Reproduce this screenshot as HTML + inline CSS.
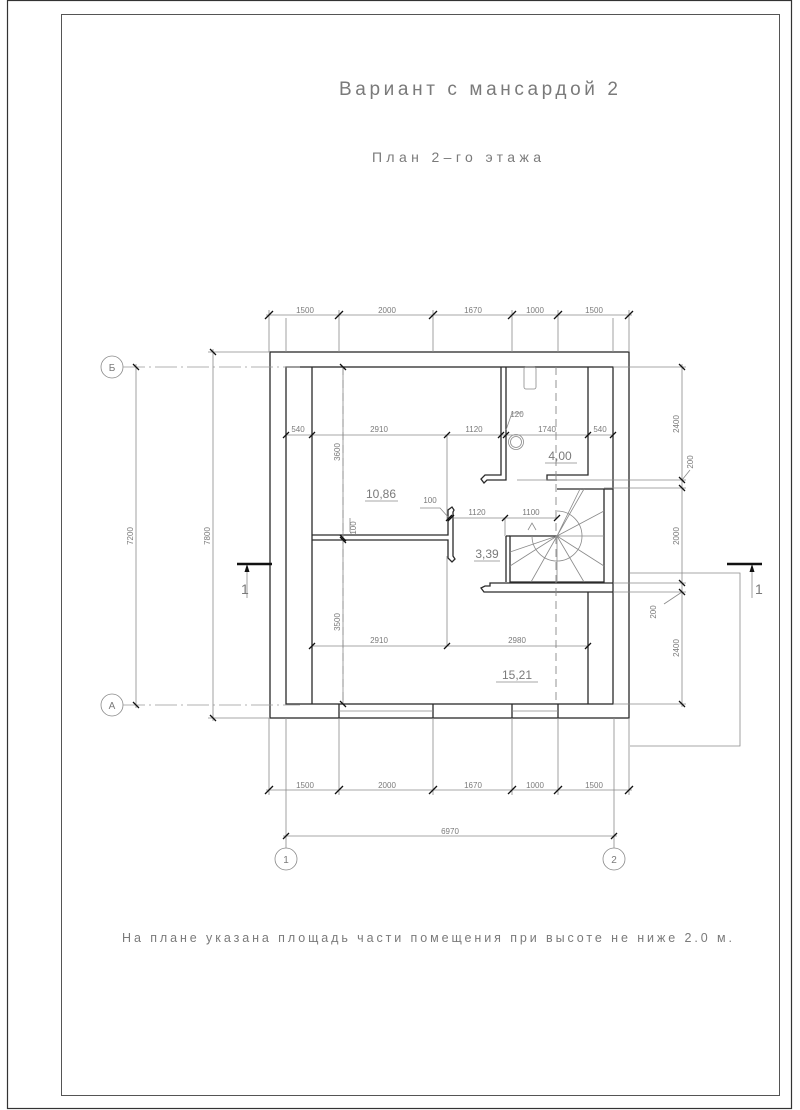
<!DOCTYPE html>
<html><head><meta charset="utf-8"><style>
html,body{margin:0;padding:0;background:#fff}
svg{display:block}
text{font-family:"Liberation Sans","DejaVu Sans",sans-serif;fill:#7a7a7a}
.w{stroke:#2a2a2a;stroke-width:1.3;fill:none}
.d{stroke:#8a8a8a;stroke-width:0.8;fill:none}
.t{stroke:#111;stroke-width:1.3}
.ax{stroke:#999;stroke-width:0.8;stroke-dasharray:22 4 2 4;fill:none}
.dash{stroke:#888;stroke-width:0.9;stroke-dasharray:8 5;fill:none}
.s{font-size:8px}
</style></head><body>
<svg width="800" height="1110" viewBox="0 0 800 1110" xmlns="http://www.w3.org/2000/svg">
<rect x="7.5" y="0.5" width="784" height="1108" fill="none" stroke="#333" stroke-width="1.2"/>
<rect x="61.5" y="14.5" width="718" height="1081" fill="none" stroke="#555" stroke-width="1"/>

<text x="339" y="95" font-size="19" textLength="279" lengthAdjust="spacing">Вариант  с  мансардой  2</text>
<text x="372" y="162" font-size="14" textLength="169" lengthAdjust="spacing">План  2–го  этажа</text>
<text x="122" y="942" font-size="12.5" textLength="610" lengthAdjust="spacing">На  плане  указана   площадь  части  помещения  при  высоте  не  ниже  2.0  м.</text>

<!-- outer walls -->
<rect x="270" y="352" width="359" height="366" class="w"/>
<rect x="286" y="367" width="327" height="337" class="w"/>
<path class="w" d="M339 704V718M433 704V718M512 704V718M558 704V718"/>
<path class="d" d="M339 711H433M512 711H558"/>

<!-- inner partitions -->
<path class="w" d="M312 367V704"/>
<path class="w" d="M588 367V475H547V480H557"/>
<path class="w" d="M588 592V704"/>
<path class="w" d="M501 367V475H485L481 479L484 483L487 480H506V367"/>
<path class="w" d="M312 535H448V510L452 507L454 510L453 512V556L455 559L452 562L448 558V540H312"/>
<path class="w" d="M557 489H604V582H510V536H557"/>
<path class="w" d="M506 536H510M506 536V582"/>
<path class="w" d="M613 583H490V586H485L481 588L484 592H613"/>
<path class="w" d="M604 489H613"/>
<!-- stairs -->
<g class="d">
<path d="M557 536L580 489M557 536L584 489M557 536L604 511M557 536H604M557 536L604 566M557 536L584 582M557 536L557 582M557 536L531 582M557 536L510 566M557 536L510 552"/>
<path d="M557 511A25 25 0 1 1 532 536"/>
<path d="M528 530L532 523L536 530"/>
</g>
<rect x="524" y="367" width="12" height="22" rx="2" class="d"/>
<circle cx="516" cy="442" r="7.5" class="d"/>
<circle cx="516" cy="442" r="5.5" class="d"/>

<path class="dash" d="M343 367V704M556 367V704"/>

<g class="d">
<path d="M286 435H613M447 435V520M449 518H557M505 518V536M312 646H588M447 646V556M343 367V704"/>
<path d="M506 430L512 413H522"/>
<path d="M449 518L440 508H420"/>
</g>
<g class="t">
<path d="M283 438L289 432M309 438L315 432M444 438L450 432M498 438L504 432M503 438L509 432M585 438L591 432M610 438L616 432"/>
<path d="M446 521L452 515M448 521L454 515M502 521L508 515M554 521L560 515"/>
<path d="M309 649L315 643M444 649L450 643M585 649L591 643"/>
<path d="M340 364L346 370M340 535L346 541M340 537L346 543M340 701L346 707"/>
</g>
<g class="s" text-anchor="middle">
<text x="298" y="432">540</text><text x="379" y="432">2910</text><text x="474" y="432">1120</text>
<text x="547" y="432">1740</text><text x="600" y="432">540</text><text x="517" y="417">120</text>
<text x="477" y="515">1120</text><text x="531" y="515">1100</text><text x="430" y="503">100</text>
<text x="379" y="643">2910</text><text x="517" y="643">2980</text>
<text transform="translate(340,452) rotate(-90)">3600</text>
<text transform="translate(340,622) rotate(-90)">3500</text>
<text transform="translate(356,528) rotate(-90)">100</text>
</g>
<path class="d" d="M350 532V518"/>
<g font-size="12" text-anchor="middle">
<text x="381" y="498">10,86</text><text x="560" y="460">4,00</text>
<text x="487" y="558">3,39</text><text x="517" y="679">15,21</text>
</g>
<path class="d" d="M365 501H398M545 463H577M474 561H500M496 682H538"/>

<g class="d">
<path d="M266 315H632M269 310V352M339 310V352M433 310V352M512 310V352M558 310V352M629 310V352M286 318V352M613 318V352"/>
<path d="M266 790H632M269 718V795M339 718V795M433 718V795M512 718V795M558 718V795M629 718V795"/>
<path d="M286 718V848M614 718V848M283 836H617"/>
</g>
<g class="t">
<path d="M265 319L273 311M335 319L343 311M429 319L437 311M508 319L516 311M554 319L562 311M625 319L633 311"/>
<path d="M265 794L273 786M335 794L343 786M429 794L437 786M508 794L516 786M554 794L562 786M625 794L633 786"/>
<path d="M283 839L289 833M611 839L617 833"/>
</g>
<g class="s" text-anchor="middle">
<text x="305" y="313">1500</text><text x="387" y="313">2000</text><text x="473" y="313">1670</text><text x="535" y="313">1000</text><text x="594" y="313">1500</text>
<text x="305" y="788">1500</text><text x="387" y="788">2000</text><text x="473" y="788">1670</text><text x="535" y="788">1000</text><text x="594" y="788">1500</text>
<text x="450" y="834">6970</text>
</g>
<circle cx="286" cy="859" r="11" class="d"/><circle cx="614" cy="859" r="11" class="d"/>
<text x="286" y="863" font-size="10" text-anchor="middle">1</text><text x="614" y="863" font-size="10" text-anchor="middle">2</text>

<circle cx="112" cy="367" r="11" class="d"/><circle cx="112" cy="705" r="11" class="d"/>
<text x="112" y="371" font-size="10" text-anchor="middle">Б</text><text x="112" y="709" font-size="10" text-anchor="middle">А</text>
<path class="ax" d="M123 367H300M123 705H300"/>
<g class="d"><path d="M136 364V708M213 349V721M208 352H270M208 718H270"/></g>
<g class="t"><path d="M133 364L139 370M133 702L139 708M210 349L216 355M210 715L216 721"/></g>
<g class="s" text-anchor="middle">
<text transform="translate(133,536) rotate(-90)">7200</text>
<text transform="translate(210,536) rotate(-90)">7800</text>
</g>

<g class="d">
<path d="M682 364V707M613 367H686M517 480H686M604 488H686M613 583H686M613 592H686M613 704H686"/>
<path d="M682 480L690 470M682 592L664 604"/>
</g>
<g class="t"><path d="M679 364L685 370M679 477L685 483M679 485L685 491M679 580L685 586M679 589L685 595M679 701L685 707"/></g>
<g class="s" text-anchor="middle">
<text transform="translate(679,424) rotate(-90)">2400</text>
<text transform="translate(679,536) rotate(-90)">2000</text>
<text transform="translate(679,648) rotate(-90)">2400</text>
<text transform="translate(693,462) rotate(-90)">200</text>
<text transform="translate(656,612) rotate(-90)">200</text>
</g>

<path d="M237 564H272M727 564H762" stroke="#111" stroke-width="2.5"/>
<path class="d" d="M247 568V598M752 568V598"/>
<path d="M247 564L244.5 572H249.5ZM752 564L749.5 572H754.5Z" fill="#111"/>
<text x="241" y="594" font-size="14">1</text><text x="755" y="594" font-size="14">1</text>
<path class="d" d="M630 573H740V746H630"/>
</svg>
</body></html>
